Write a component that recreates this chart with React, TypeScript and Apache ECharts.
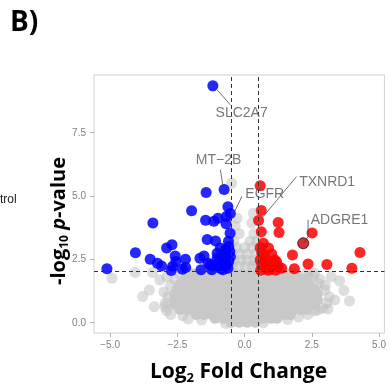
import React, { useEffect, useRef } from "react";
import * as echarts from "echarts";

// axis ticks
const xTicks = [-5, -2.5, 0, 2.5, 5];
const yTicks = [0, 2.5, 5, 7.5];
// thresholds
const fcCutoffs = [-0.5, 0.5];
const pCutoff = 2;

// significant, down-regulated (log2FC, -log10 p)
const downPoints: [number, number][] = [
  [-1.18, 9.35], [-0.76, 5.25], [-1.43, 5.13], [-0.62, 4.57], [-0.53, 4.3],
  [-1.97, 4.41], [-1.45, 4.03], [-1.14, 3.99], [-0.99, 4.11], [-0.68, 4.18],
  [-0.69, 3.89], [-0.54, 3.52], [-1.39, 3.27], [-1.08, 3.21], [-3.41, 3.92],
  [-4.06, 2.75], [-2.9, 2.93], [-2.7, 3.06], [-2.58, 2.62], [-2.56, 2.4],
  [-3.51, 2.49], [-3.24, 2.33], [-3.09, 2.22], [-2.2, 2.49], [-2.68, 2.2],
  [-2.73, 2.04], [-2.31, 2.09], [-2.19, 2.16], [-1.62, 2.07], [-1.66, 2.53],
  [-1.51, 2.62], [-1.35, 2.33], [-1.02, 2.73], [-0.9, 2.93], [-0.71, 2.86],
  [-0.59, 2.99], [-5.12, 2.11], [-0.96, 2.4], [-0.77, 2.53], [-0.65, 2.26],
  [-1.14, 2.2], [-0.9, 2.13], [-0.59, 2.4], [-0.71, 2.66], [-0.53, 2.59],
  [-0.84, 2.26], [-1.02, 2.53], [-1.27, 2.26], [-0.62, 2.13], [-0.81, 2.07],
  [-1.22, 2.07], [-0.55, 2.8], [-0.6, 3.2],
];

// significant, up-regulated
const upPoints: [number, number][] = [
  [0.58, 5.4], [0.62, 4.42], [0.52, 4.02], [1.25, 3.94], [1.28, 3.55],
  [0.62, 3.58], [2.51, 3.53], [4.29, 2.76], [1.78, 2.66], [2.36, 2.3],
  [3.06, 2.28], [3.99, 2.13], [1.85, 2.11], [0.7, 3.12], [0.89, 2.93],
  [1.01, 2.7], [0.76, 2.59], [1.13, 2.46], [0.64, 2.26], [0.95, 2.26],
  [1.25, 2.2], [1.38, 2.13], [0.82, 2.13], [0.64, 2.73], [0.58, 2.46],
  [1.07, 2.2], [0.58, 2.94], [0.76, 2.38], [1.19, 2.38], [0.88, 2.05],
  [1.15, 2.05], [0.6, 2.05],
];
const highlightedPoint: [number, number][] = [[2.18, 3.12]];

// non-significant genes: dense core of the grey cloud, read row by row
const grayCoreRows: [number, number[]][] = [
  [0.0, [-0.5, -0.2, 0.1, 0.4]],
  [0.15, [-1.1, -0.8, -0.5, -0.2, 0.1, 0.4, 0.7, 1.0, 1.2]],
  [0.3, [-1.8, -1.5, -1.2, -0.9, -0.6, -0.3, 0, 0.3, 0.6, 0.9, 1.2, 1.5, 1.7]],
  [0.5, [-2.4, -2.1, -1.8, -1.5, -1.2, -0.9, -0.6, -0.3, 0, 0.3, 0.6, 0.9, 1.2, 1.5, 1.8, 2.1, 2.3]],
  [0.7, [-2.6, -2.3, -2.0, -1.7, -1.4, -1.1, -0.8, -0.5, -0.2, 0.1, 0.4, 0.7, 1.0, 1.3, 1.6, 1.9, 2.2, 2.45, 2.6]],
  [0.9, [-2.6, -2.3, -2.0, -1.7, -1.4, -1.1, -0.8, -0.5, -0.2, 0.1, 0.4, 0.7, 1.0, 1.3, 1.6, 1.9, 2.2, 2.5, 2.7]],
  [1.1, [-2.6, -2.3, -2.0, -1.7, -1.4, -1.1, -0.8, -0.5, -0.2, 0.1, 0.4, 0.7, 1.0, 1.3, 1.6, 1.9, 2.2, 2.5, 2.7]],
  [1.3, [-2.5, -2.2, -1.9, -1.6, -1.3, -1.0, -0.7, -0.4, -0.1, 0.2, 0.5, 0.8, 1.1, 1.4, 1.7, 2.0, 2.3, 2.6]],
  [1.5, [-2.4, -2.1, -1.8, -1.5, -1.2, -0.9, -0.6, -0.3, 0, 0.3, 0.6, 0.9, 1.2, 1.5, 1.8, 2.1, 2.4]],
  [1.7, [-2.2, -1.9, -1.6, -1.3, -1.0, -0.7, -0.4, -0.1, 0.2, 0.5, 0.8, 1.1, 1.4, 1.7, 2.0, 2.2]],
  [1.9, [-1.9, -1.6, -1.3, -1.0, -0.7, -0.4, -0.1, 0.2, 0.5, 0.8, 1.1, 1.4, 1.7, 1.9]],
];
// sparse grey points around the core
const grayFringe: [number, number][] = [
  [-2.9, 0.45], [-2.75, 0.3], [-2.3, 0.25], [-2.1, 0.12], [-1.6, 0.08],
  [1.6, 0.1], [2.0, 0.2], [2.35, 0.3], [2.6, 0.45], [2.9, 0.55],
  [3.05, 0.75], [3.15, 1.0], [3.0, 1.45], [2.8, 1.7], [2.55, 1.85],
  [2.3, 1.95], [-2.6, 1.7], [-2.75, 1.45], [-2.85, 1.0], [-2.95, 0.75],
  [-2.4, 1.9], [-2.1, 1.95], [-0.7, -0.05], [0.7, -0.02],
  [-0.45, 2.2], [-0.2, 2.2], [0.05, 2.2], [0.3, 2.2], [0.45, 2.25],
  [-0.4, 2.45], [-0.15, 2.45], [0.1, 2.45], [0.35, 2.45],
  [-0.45, 2.7], [-0.2, 2.7], [0.1, 2.7], [0.4, 2.7],
  [-0.3, 2.95], [0, 2.95], [0.3, 2.95], [-0.4, 3.2], [0.2, 3.2], [0.45, 3.2],
  [-0.2, 3.5], [0.35, 3.5], [-0.35, 3.8], [-0.28, 4.11], [0.27, 3.92],
  [0.33, 4.31], [-0.48, 5.5],
  [-4.93, 1.74], [-4.07, 1.96], [-3.79, 1.01], [-3.54, 1.27], [-3.36, 0.61],
  [-3.42, 1.96], [-2.96, 0.61], [-3.15, 1.67], [-3.0, 1.2], [-2.9, 1.8],
  [3.9, 0.84], [3.69, 1.25], [3.35, 0.88], [3.53, 1.64], [3.22, 1.8],
  [3.1, 0.52], [2.73, 1.54], [2.98, 1.27], [2.6, 1.94], [2.36, 1.8], [2.73, 0.48],
];

// gene annotations
const geneNames = ["SLC2A7", "MT\u22122B", "EGFR", "TXNRD1", "ADGRE1"];
const labelPos: [number, number][] = [
  [-0.11, 8.33], [-0.97, 6.45], [0.75, 5.1], [3.07, 5.59], [3.53, 4.09],
];
const connectors: [number, number][][] = [
  [[-1.02, 9.19], [-0.53, 8.6]],
  [[-0.9, 6.03], [-0.8, 5.36]],
  [[-0.1, 4.97], [-0.43, 4.25]],
  [[1.93, 5.76], [0.64, 4.11]],
  [[2.36, 4.05], [2.36, 3.38], [2.21, 3.15]],
];

const fmt = (v: number) => (v < 0 ? "\u2212" : "") + Math.abs(v).toFixed(1);

export default function App() {
  const ref = useRef<HTMLDivElement>(null);
  useEffect(() => {
    if (!ref.current) return;
    const chart = echarts.init(ref.current, null, { renderer: "svg" });
    const grayCore: [number, number][] = [];
    grayCoreRows.forEach(([y, xs]) => xs.forEach((x) => grayCore.push([x, y])));

    const tickFont = {
      color: "#7f7f7f",
      fontSize: 10,
      fontFamily: "Liberation Sans, Arial, sans-serif",
    };

    const series: any[] = [
      {
        type: "scatter",
        data: grayFringe,
        symbolSize: 11,
        itemStyle: { color: "#bdbdbd", opacity: 0.5 },
        silent: true,
        z: 2,
      },
      {
        type: "scatter",
        data: grayCore,
        symbolSize: 11,
        itemStyle: { color: "#c8c8c8", opacity: 1 },
        silent: true,
        z: 2,
      },
      {
        type: "scatter",
        data: downPoints,
        symbolSize: 11,
        itemStyle: { color: "#0000ff", opacity: 0.85 },
        z: 3,
      },
      {
        type: "scatter",
        data: upPoints,
        symbolSize: 11,
        itemStyle: { color: "#ff0000", opacity: 0.85 },
        z: 3,
      },
      {
        type: "scatter",
        data: highlightedPoint,
        symbolSize: 11,
        itemStyle: { color: "#c40000", borderColor: "#3a0000", borderWidth: 1 },
        z: 4,
        markLine: {
          silent: true,
          symbol: "none",
          label: { show: false },
          lineStyle: { color: "#333333", type: [4, 3], width: 1 },
          data: [
            ...fcCutoffs.map((v) => ({ xAxis: v })),
            { yAxis: pCutoff },
          ],
        },
      },
      ...connectors.map((pts) => ({
        type: "line",
        data: pts,
        showSymbol: false,
        symbol: "none",
        lineStyle: { color: "#333333", width: 0.7 },
        silent: true,
        z: 5,
      })),
      {
        type: "scatter",
        data: labelPos.map((p, i) => ({ value: p, name: geneNames[i] })),
        symbolSize: 1,
        itemStyle: { color: "rgba(0,0,0,0)" },
        label: {
          show: true,
          position: "inside",
          formatter: "{b}",
          color: "#555555",
          fontSize: 14,
          fontFamily: "Liberation Sans, Arial, sans-serif",
        },
        silent: true,
        z: 6,
      },
    ];

    chart.setOption({
      animation: false,
      grid: {
        left: 94,
        top: 75,
        right: 2,
        bottom: 52,
        show: true,
        borderColor: "#d3d3d3",
        borderWidth: 1,
        backgroundColor: "#ffffff",
      },
      xAxis: {
        type: "value",
        min: -5.6,
        max: 5.2,
        position: "bottom",
        axisLine: { show: false, onZero: false },
        splitLine: { show: false },
        axisTick: {
          show: true,
          length: 4,
          lineStyle: { color: "#b3b3b3" },
          customValues: xTicks,
        },
        axisLabel: { ...tickFont, margin: 6, formatter: fmt, customValues: xTicks },
      },
      yAxis: {
        type: "value",
        min: -0.43,
        max: 9.78,
        position: "left",
        axisLine: { show: false, onZero: false },
        splitLine: { show: false },
        axisTick: {
          show: true,
          length: 4,
          lineStyle: { color: "#b3b3b3" },
          customValues: yTicks,
        },
        axisLabel: { ...tickFont, margin: 8, formatter: fmt, customValues: yTicks },
      },
      series,
      graphic: [
        {
          type: "text",
          left: 10,
          top: 6,
          style: {
            text: "B)",
            fontSize: 28,
            fontWeight: "bold",
            fontFamily: "Open Sans, sans-serif",
            fill: "#000",
          },
        },
        {
          type: "text",
          x: 0,
          y: 199,
          style: {
            text: "trol",
            fontSize: 12,
            fontFamily: "Liberation Sans, Arial, sans-serif",
            fill: "#1a1a1a",
            align: "left",
            verticalAlign: "middle",
          },
        },
        {
          type: "text",
          x: 238.5,
          y: 370,
          style: {
            text: "{b|Log}{s|2}{b| Fold Change}",
            align: "center",
            verticalAlign: "middle",
            rich: {
              b: { fontSize: 21, fontWeight: "bold", fontFamily: "Open Sans, sans-serif", fill: "#000", lineHeight: 26 },
              s: { fontSize: 13, fontWeight: "bold", fontFamily: "Open Sans, sans-serif", fill: "#000", lineHeight: 13, verticalAlign: "bottom" },
            },
          },
        },
        {
          type: "text",
          x: 57,
          y: 221,
          rotation: Math.PI / 2,
          style: {
            text: "{b|-log}{s|10}{b| }{i|p}{b|-value}",
            align: "center",
            verticalAlign: "middle",
            rich: {
              b: { fontSize: 20, fontWeight: "bold", fontFamily: "Open Sans, sans-serif", fill: "#000", lineHeight: 24 },
              s: { fontSize: 12, fontWeight: "bold", fontFamily: "Open Sans, sans-serif", fill: "#000", lineHeight: 12, verticalAlign: "bottom" },
              i: { fontSize: 20, fontWeight: "bold", fontStyle: "italic", fontFamily: "Open Sans, sans-serif", fill: "#000", lineHeight: 24 },
            },
          },
        },
      ],
    });
    return () => chart.dispose();
  }, []);
  return (
    <div
      ref={ref}
      style={{ position: "fixed", left: 0, top: 0, width: 389, height: 385 }}
    />
  );
}
